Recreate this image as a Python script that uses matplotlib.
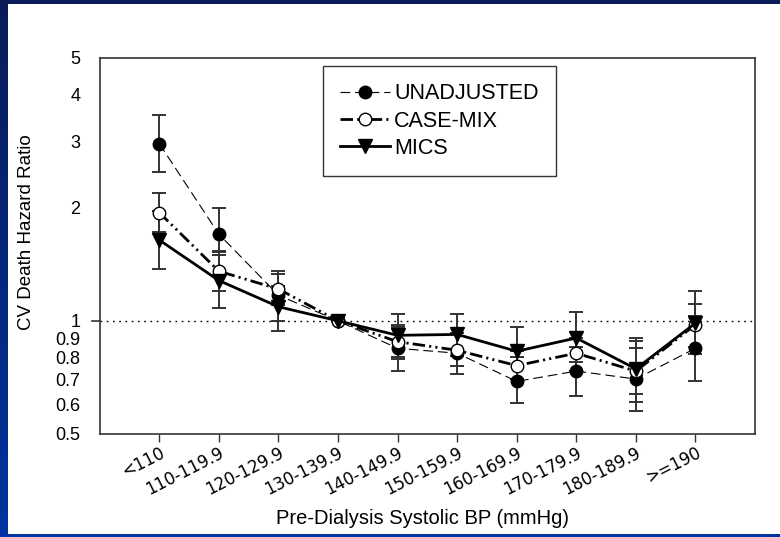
import numpy as np
import matplotlib
matplotlib.use("Agg")
import matplotlib.pyplot as plt
from matplotlib.patches import Rectangle
from matplotlib.ticker import NullLocator

plt.rcParams["font.family"] = ["Liberation Sans", "DejaVu Sans"]
plt.rcParams["lines.scale_dashes"] = False

# Systolic blood pressure categories (mmHg)
categories = ["<110", "110-119.9", "120-129.9", "130-139.9", "140-149.9",
              "150-159.9", "160-169.9", "170-179.9", "180-189.9", ">=190"]

# Cardiovascular death hazard ratios with 95% confidence limits
unadj_hr = [2.96, 1.70, 1.17, 1.00, 0.845, 0.82, 0.69, 0.735, 0.70, 0.845]
unadj_lo = [2.49, 1.50, 1.00, 1.00, 0.735, 0.72, 0.605, 0.63, 0.575, 0.69]
unadj_hi = [3.52, 2.00, 1.355, 1.00, 0.965, 0.93, 0.80, 0.85, 0.845, 1.03]

casemix_hr = [1.94, 1.355, 1.215, 1.00, 0.88, 0.835, 0.76, 0.82, 0.735, 0.977]
casemix_lo = [1.72, 1.20, 1.10, 1.00, 0.79, 0.76, 0.70, 0.735, 0.61, 0.85]
casemix_hi = [2.19, 1.53, 1.33, 1.00, 0.975, 0.93, 0.83, 0.90, 0.885, 1.11]

mics_hr = [1.64, 1.28, 1.09, 1.00, 0.915, 0.92, 0.83, 0.90, 0.745, 0.986]
mics_lo = [1.37, 1.08, 0.94, 1.00, 0.80, 0.805, 0.70, 0.775, 0.64, 0.815]
mics_hi = [1.96, 1.52, 1.24, 1.00, 1.04, 1.04, 0.963, 1.055, 0.90, 1.20]

y_ticks = [0.5, 0.6, 0.7, 0.8, 0.9, 1, 2, 3, 4, 5]
y_tick_labels = ["0.5", "0.6", "0.7", "0.8", "0.9", "1", "2", "3", "4", "5"]

W, H = 780, 537
fig = plt.figure(figsize=(W / 100, H / 100), dpi=100)

# slide-style blue frame with a white panel
bg = fig.add_axes([0, 0, 1, 1], zorder=-10)
grad = np.linspace(0, 1, 256)[:, None]
top_c = np.array([10, 28, 88]) / 255
bot_c = np.array([0, 52, 160]) / 255
img = top_c[None, None, :] * (1 - grad[:, :, None]) + bot_c[None, None, :] * grad[:, :, None]
bg.imshow(img, extent=[0, 1, 0, 1], aspect="auto", origin="upper")
bg.add_patch(Rectangle((8 / W, 3 / H), 1, 1 - 7 / H, transform=bg.transAxes,
                       facecolor="white", edgecolor="none"))
bg.set_xlim(0, 1)
bg.set_ylim(0, 1)
bg.axis("off")

ax = fig.add_axes([99.7 / W, 103 / H, 655.3 / W, 376 / H])
ax.set_facecolor("none")
x = np.arange(len(categories))

ax.axhline(1.0, color="black", lw=1.0, linestyle=(0, (1.2, 3.3)), zorder=1)

err_kw = dict(fmt="none", ecolor="#333333", elinewidth=1.4, capsize=5,
              capthick=1.4, zorder=2)
for hr, lo, hi in [(unadj_hr, unadj_lo, unadj_hi),
                   (casemix_hr, casemix_lo, casemix_hi),
                   (mics_hr, mics_lo, mics_hi)]:
    hr = np.array(hr)
    yerr = np.vstack([hr - np.array(lo), np.array(hi) - hr])
    ax.errorbar(x, hr, yerr=yerr, **err_kw)

l1, = ax.plot(x, unadj_hr, color="black", lw=0.8, linestyle=(0, (7, 3.5)),
              marker="o", markersize=9, mfc="black", mec="black",
              label="UNADJUSTED", zorder=3)
l2, = ax.plot(x, casemix_hr, color="black", lw=2.0,
              linestyle=(0, (9, 3, 1.5, 3, 1.5, 3)),
              marker="o", markersize=9, mfc="white", mec="black", mew=1.0,
              label="CASE-MIX", zorder=4)
l3, = ax.plot(x, mics_hr, color="black", lw=2.0, linestyle="-",
              marker="v", markersize=9.5, mfc="black", mec="black",
              label="MICS", zorder=5)

ax.set_yscale("log")
ax.set_ylim(0.5, 5)
ax.set_xlim(-1, 10)
ax.set_yticks(y_ticks)
ax.set_yticklabels(y_tick_labels)
ax.yaxis.set_minor_locator(NullLocator())
ax.tick_params(axis="y", length=0, pad=14, labelsize=13)
# short tick marking the reference ratio of 1
ax.plot([-0.011, 0], [1, 1], transform=ax.get_yaxis_transform(),
        color="#333333", lw=1.2, clip_on=False)

ax.set_xticks(x)
ax.set_xticklabels(categories, rotation=27, ha="right", va="top",
                   rotation_mode="anchor", family="DejaVu Sans")
ax.tick_params(axis="x", length=6, width=1.0, direction="out", pad=1,
               labelsize=12, color="#333333")

for s in ax.spines.values():
    s.set_color("#333333")
    s.set_linewidth(1.2)

ax.set_xlabel("Pre-Dialysis Systolic BP (mmHg)", fontsize=14.5)
ax.xaxis.set_label_coords(0.492, -0.2)
ax.xaxis.label.set_va("top")
ax.set_ylabel("CV Death Hazard Ratio", fontsize=13.5)
ax.yaxis.set_label_coords(-0.111, 0.537)
ax.yaxis.label.set_va("center")

leg = ax.legend(handles=[l1, l2, l3], loc="upper left",
                bbox_to_anchor=(0.3408, 0.978), borderaxespad=0,
                fontsize=15.5, frameon=True, fancybox=False,
                edgecolor="#333333", framealpha=1, borderpad=0.8,
                handlelength=2.3, handletextpad=0.2, labelspacing=0.28,
                numpoints=1)
leg.get_frame().set_linewidth(1.0)

fig.savefig("out.png", dpi=100)
